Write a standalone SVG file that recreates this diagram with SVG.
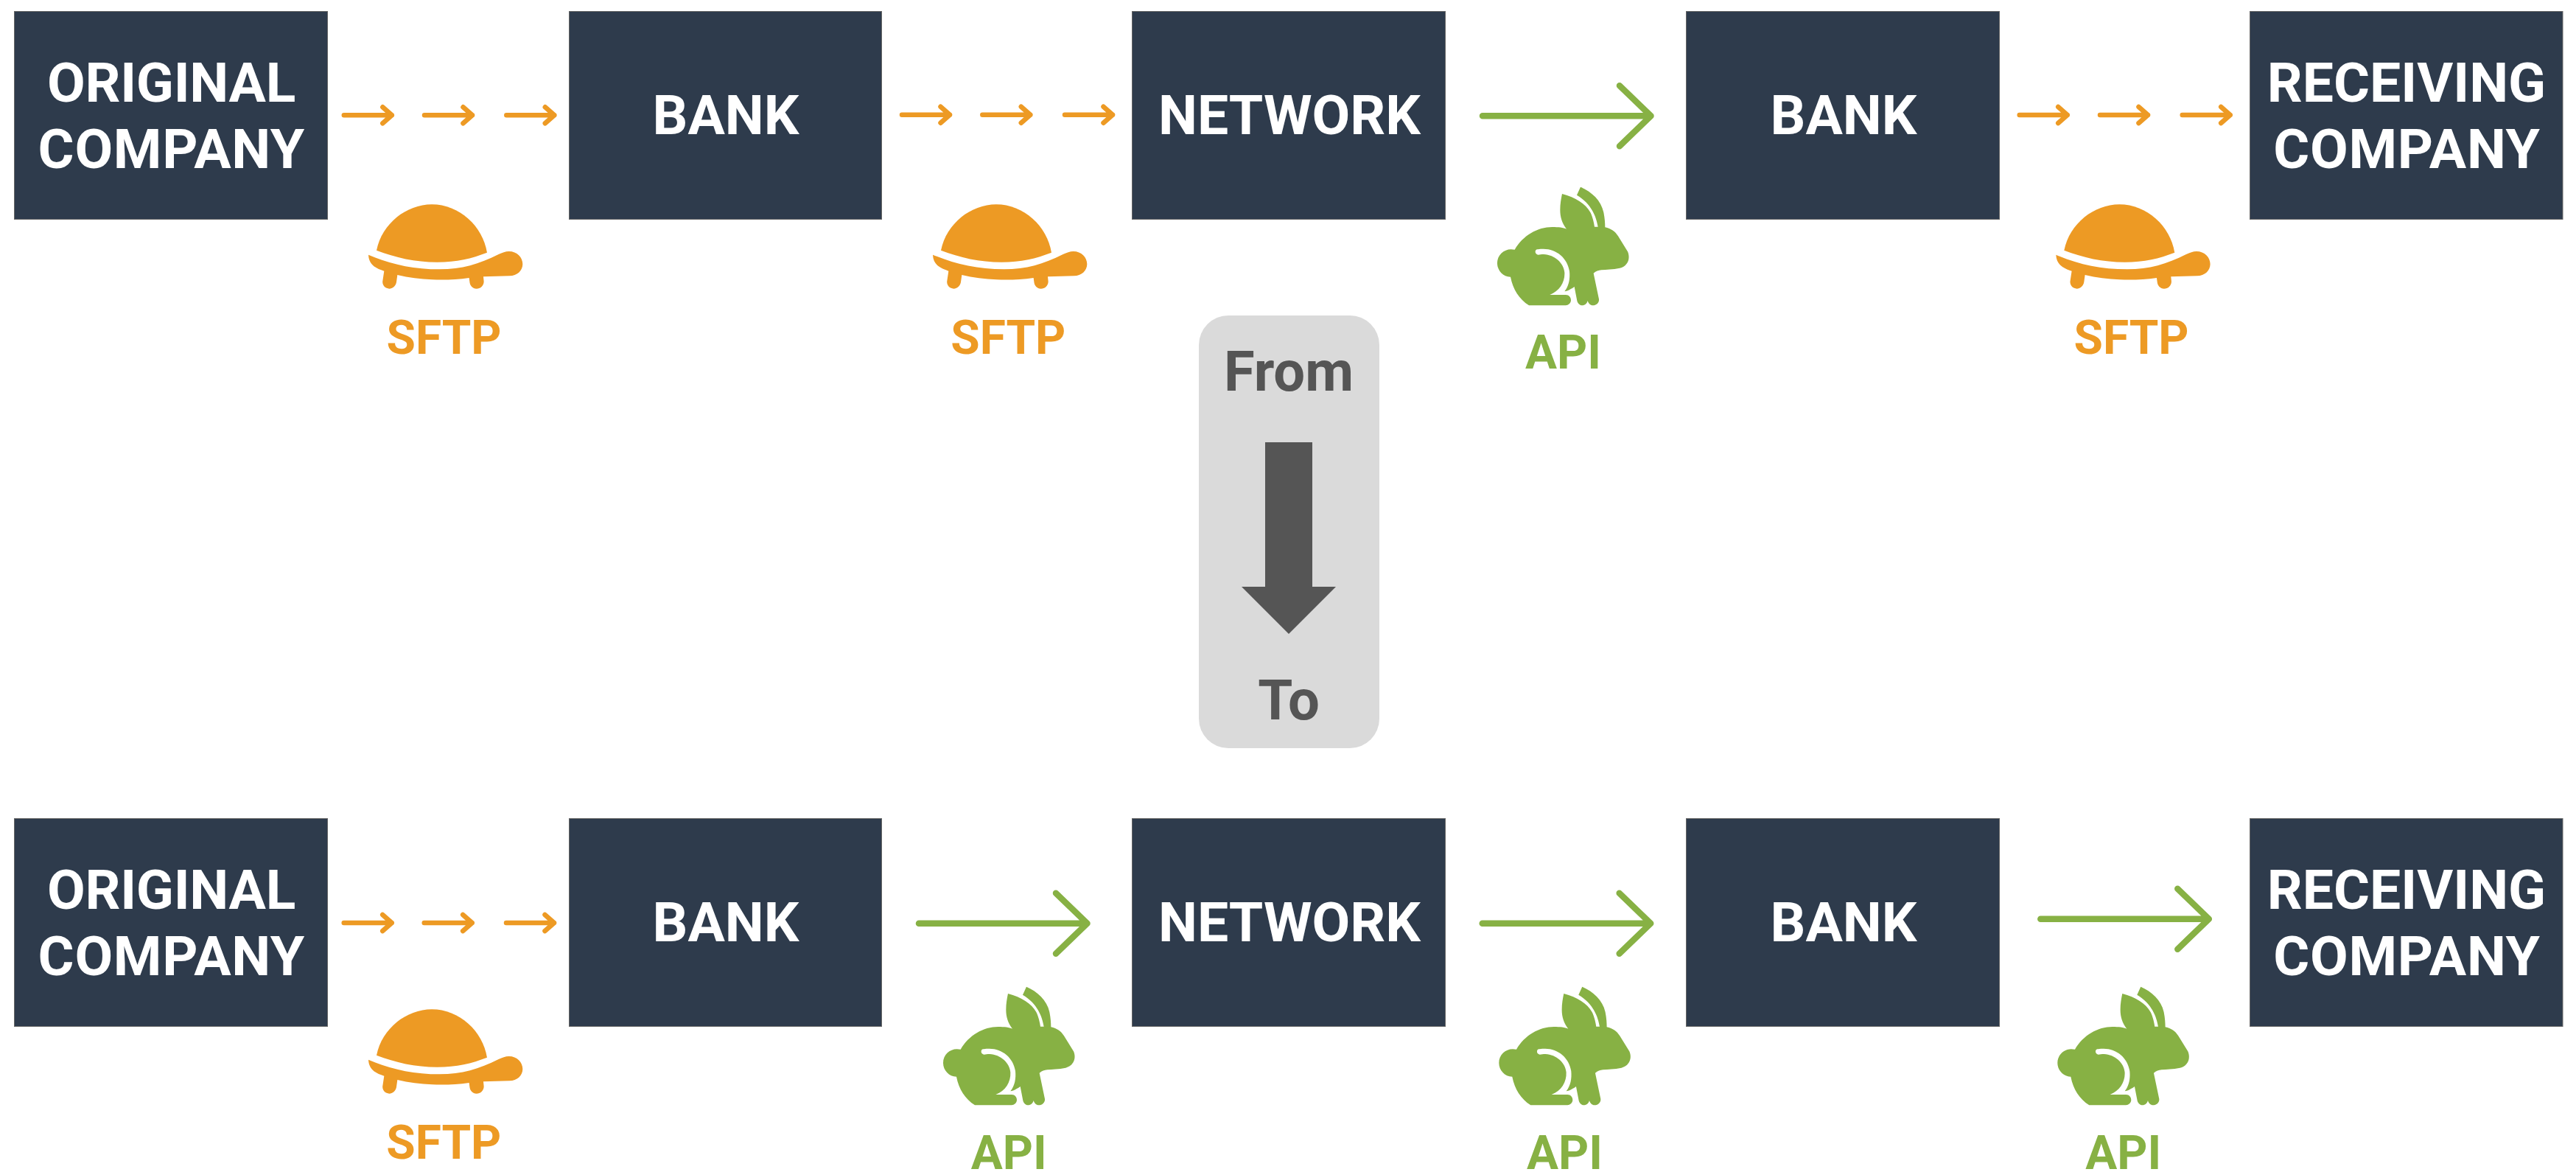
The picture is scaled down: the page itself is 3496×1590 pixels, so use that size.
<svg xmlns="http://www.w3.org/2000/svg" width="3496" height="1590" viewBox="0 0 3496 1590">
<style>
text{font-family:Roboto,"Liberation Sans",sans-serif;font-weight:700;text-anchor:middle}
.box{fill:#2e3b4c;stroke:#666;stroke-width:1}
.bt{fill:#fff;font-size:75px}
.c{letter-spacing:.7px}
.r{letter-spacing:-.3px}
.o{fill:#ed9a24}.g{fill:#87b144}
.ol{fill:#ed9a24;font-size:64px}.gl{fill:#87b144;font-size:64px}
.sl{fill:none;stroke:#ed9a24;stroke-width:6.500;stroke-linecap:round;stroke-linejoin:round}
.gn{fill:none;stroke:#87b144;stroke-width:8.500;stroke-linecap:round;stroke-linejoin:round}
.ft{fill:#555;font-size:76px}
</style>
<defs>
<g id="turtle" class="o" transform="scale(.3333)">
<path d="M93 239C115 130 215 52 318 52C430 52 525 140 543 248C480 272 420 287 340 287C250 287 170 268 93 239Z"/>
<path d="M60 257C150 295 240 316 350 316C440 316 510 295 590 255C605 248 618 243 632 243C665 243 688 267 688 295C688 322 665 343 635 343L528 346L530 365C530 383 516 395 500 395C485 395 473 383 472 366L470 351C420 358 370 360 320 358C270 356 225 350 178 339L174 368C171 384 158 395 145 395C128 395 115 380 118 363L124 323C85 310 62 295 60 257Z"/>
</g>
<g id="rabbit" class="g" transform="scale(.3333)">
<path d="M330 70C385 85 425 110 445 145C455 165 460 190 462 204L476 204C470 165 450 110 390 75L405 42C450 62 488 95 499 145C504 170 505 190 505 206C530 212 545 222 558 242L597 305C610 335 595 365 565 372C535 378 510 378 490 380C478 381 468 385 458 393L480 498C482 512 470 524 455 524C445 524 437 516 434 505C432 516 423 524 412 524C400 524 393 514 391 505L380 448C370 455 355 465 340 467C358 445 363 415 360 385C352 330 305 292 250 294C240 294 232 295 228 296C218 298 218 316 232 318C240 317 245 316 255 316C300 318 337 352 340 390C342 430 320 465 280 481L345 481C358 481 366 491 366 503C366 515 355 524 345 524L195 524C155 497 130 460 120 408C90 408 66 382 66 352C66 320 92 296 122 296L137 297C170 240 230 205 290 205C315 205 335 207 348 213C330 190 322 165 322 135C322 110 326 90 330 70Z"/>
</g>
<path id="sa" class="sl" d="M0 0H65M52.500 -11L65 0L52.500 11"/>
<path id="ga" class="gn" d="M0 0H228.500M186 -41L228.500 0L186 41"/>
</defs>
<g id="connectors">
<use href="#sa" x="466.800" y="156.300"/><use href="#sa" x="576" y="156.300"/><use href="#sa" x="687.300" y="156.300"/>
<use href="#sa" x="1224" y="155.700"/><use href="#sa" x="1333.300" y="155.700"/><use href="#sa" x="1445" y="155.700"/>
<use href="#ga" x="2012" y="157.300"/>
<use href="#sa" x="2740.700" y="156"/><use href="#sa" x="2850" y="156"/><use href="#sa" x="2961.700" y="156"/>
<use href="#sa" x="466.700" y="1252"/><use href="#sa" x="575.700" y="1252"/><use href="#sa" x="687" y="1252"/>
<use href="#ga" x="1247" y="1252.700"/><use href="#ga" x="2011.700" y="1252.700"/><use href="#ga" x="2769.300" y="1246.700"/>
</g>
<g id="n1"><rect class="box" x="19.500" y="15.500" width="425" height="282"/><text class="bt r" x="232.500" y="138">ORIGINAL</text><text class="bt c" x="232.800" y="228">COMPANY</text></g>
<g id="n2"><rect class="box" x="772.500" y="15.500" width="424" height="282"/><text class="bt" x="985" y="182">BANK</text></g>
<g id="n3"><rect class="box" x="1536.500" y="15.500" width="425" height="282"/><text class="bt" x="1750" y="182">NETWORK</text></g>
<g id="n4"><rect class="box" x="2288.500" y="15.500" width="425" height="282"/><text class="bt" x="2502" y="182">BANK</text></g>
<g id="n5"><rect class="box" x="3053.500" y="15.500" width="424.500" height="282"/><text class="bt" x="3266" y="138">RECEIVING</text><text class="bt c" x="3266.500" y="228">COMPANY</text></g>
<g id="n6"><rect class="box" x="19.500" y="1110.500" width="425" height="282"/><text class="bt r" x="232.500" y="1233">ORIGINAL</text><text class="bt c" x="232.800" y="1323">COMPANY</text></g>
<g id="n7"><rect class="box" x="772.500" y="1110.500" width="424" height="282"/><text class="bt" x="985" y="1277">BANK</text></g>
<g id="n8"><rect class="box" x="1536.500" y="1110.500" width="425" height="282"/><text class="bt" x="1750" y="1277">NETWORK</text></g>
<g id="n9"><rect class="box" x="2288.500" y="1110.500" width="425" height="282"/><text class="bt" x="2502" y="1277">BANK</text></g>
<g id="n10"><rect class="box" x="3053.500" y="1110.500" width="424.500" height="282"/><text class="bt" x="3266" y="1233">RECEIVING</text><text class="bt c" x="3266.500" y="1323">COMPANY</text></g>
<g id="legend"><rect x="1627" y="428" width="245" height="587" rx="40" fill="#dadada"/><text class="ft" x="1749" y="530">From</text><path fill="#555" d="M1717 600H1781V796H1813L1749 860L1685 796H1717Z"/><text class="ft" x="1749" y="976">To</text></g>
<g id="l1"><use href="#turtle" x="480" y="260"/><text class="ol" x="602.500" y="479.500">SFTP</text></g>
<g id="l2"><use href="#turtle" x="1246" y="260"/><text class="ol" x="1368.300" y="479.500">SFTP</text></g>
<g id="l3"><use href="#rabbit" x="2010" y="239.700"/><text class="gl" x="2121.500" y="500">API</text></g>
<g id="l4"><use href="#turtle" x="2770.300" y="260"/><text class="ol" x="2892.500" y="479.500">SFTP</text></g>
<g id="l5"><use href="#turtle" x="480" y="1352"/><text class="ol" x="602.300" y="1572">SFTP</text></g>
<g id="l6"><use href="#rabbit" x="1258" y="1324.700"/><text class="gl" x="1369.200" y="1585.700">API</text></g>
<g id="l7"><use href="#rabbit" x="2012.300" y="1324.700"/><text class="gl" x="2123.500" y="1585.700">API</text></g>
<g id="l8"><use href="#rabbit" x="2770.300" y="1324.700"/><text class="gl" x="2881.800" y="1585.700">API</text></g>
</svg>
